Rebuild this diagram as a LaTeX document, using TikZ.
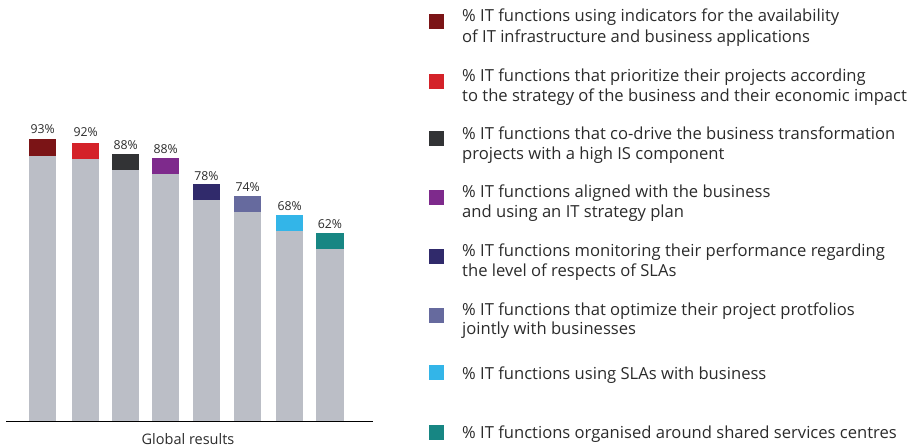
\documentclass[tikz,border=0pt]{standalone}
\usepackage{fontspec}
\setmainfont{Open Sans}
\definecolor{txt}{HTML}{2B2B2B}
\definecolor{barg}{HTML}{BBBEC6}
\definecolor{c1}{HTML}{7B1416}
\definecolor{c2}{HTML}{D42229}
\definecolor{c3}{HTML}{323335}
\definecolor{c4}{HTML}{7E2A8C}
\definecolor{c5}{HTML}{302A6B}
\definecolor{c6}{HTML}{666A9E}
\definecolor{c7}{HTML}{33B5E8}
\definecolor{c8}{HTML}{178683}
\begin{document}
\begin{tikzpicture}[x=1pt,y=-1pt,
  lbl/.style={font=\fontsize{12.3}{13}\selectfont, text=txt, anchor=base, inner sep=0pt},
  leg/.style={font=\fontsize{16.6}{20}\selectfont, text=txt, anchor=base west, inner sep=0pt},
  sq/.style={minimum size=15pt, inner sep=0pt, anchor=north west}]
\useasboundingbox (0,0) rectangle (910,447);
\foreach \x/\t/\c/\p/\lb [count=\i] in {29/139.3/c1/93/133.3, 72/142.7/c2/92/136.7, 112/153.7/c3/88/149, 152/157.7/c4/88/153.3, 192.7/184/c5/78/180, 234/195.7/c6/74/191, 276/215/c7/68/210, 316.3/232.7/c8/62/228.3} {
  \fill[barg] (\x,\t) rectangle (\x+27.3,421.7);
  \fill[\c] (\x,\t) rectangle (\x+27.3,\t+16.3);
  \node[lbl] (v\i) at (\x+13.65,\lb) {\p\%};
}
\draw[line width=1.3pt, black] (6,421.7) coordinate (axl) -- (372.7,421.7) coordinate (axr);
\node[lbl, font=\fontsize{14.5}{16}\selectfont] (glob) at (188,444.3) {Global results};
% legend
\node[sq, fill=c1] (s1) at (429,14) {};
\node[leg] (t1a) at (462,21.5) {\% IT functions using indicators for the availability};
\node[leg] (t1b) at (462,42) {of IT infrastructure and business applications};
\node[sq, fill=c2] (s2) at (429,73.3) {};
\node[leg] (t2a) at (462,81.5) {\% IT functions that prioritize their projects according};
\node[leg] (t2b) at (462,101.7) {to the strategy of the business and their economic impact};
\node[sq, fill=c3] (s3) at (429,131) {};
\node[leg] (t3a) at (462,139.3) {\% IT functions that co-drive the business transformation};
\node[leg] (t3b) at (462,159.3) {projects with a high IS component};
\node[sq, fill=c4] (s4) at (429,190) {};
\node[leg] (t4a) at (462,197.3) {\% IT functions aligned with the business};
\node[leg] (t4b) at (462,217.3) {and using an IT strategy plan};
\node[sq, fill=c5] (s5) at (429,248.3) {};
\node[leg] (t5a) at (462,256) {\% IT functions monitoring their performance regarding};
\node[leg] (t5b) at (462,276) {the level of respects of SLAs};
\node[sq, fill=c6] (s6) at (429,307.3) {};
\node[leg] (t6a) at (462,315) {\% IT functions that optimize their project protfolios};
\node[leg] (t6b) at (462,334.5) {jointly with businesses};
\node[sq, fill=c7] (s7) at (429,365) {};
\node[leg] (t7a) at (462,379.5) {\% IT functions using SLAs with business};
\node[sq, fill=c8] (s8) at (429,424.3) {};
\node[leg] (t8a) at (462,438) {\% IT functions organised around shared services centres};
\end{tikzpicture}
\end{document}
